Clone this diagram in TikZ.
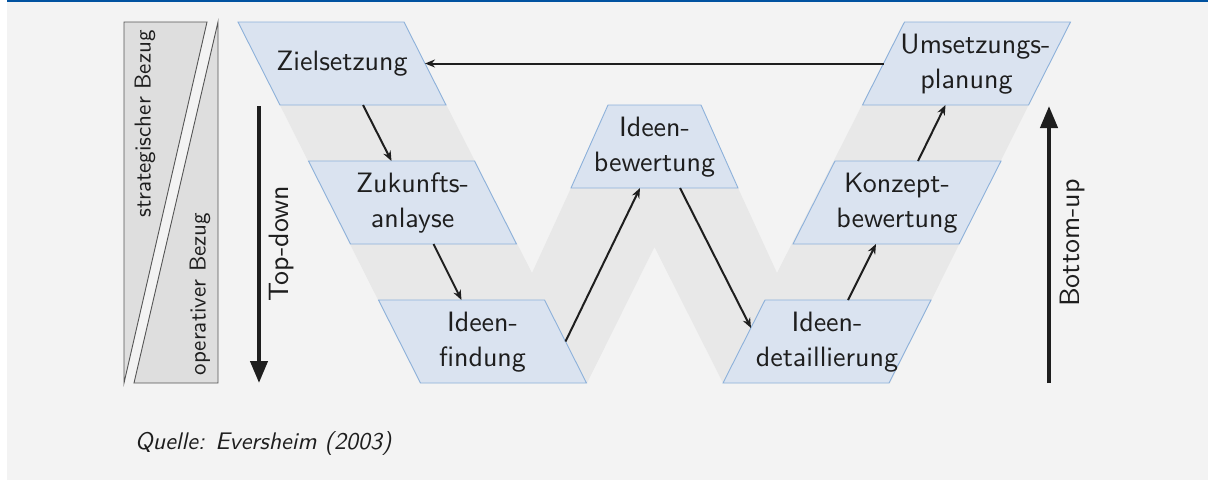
\documentclass[tikz,border=0pt]{standalone}
\usetikzlibrary{arrows.meta,calc}
\usepackage{graphicx}
\definecolor{bgc}{HTML}{F3F3F3}
\definecolor{topblue}{HTML}{0052A0}
\definecolor{bandc}{HTML}{E8E8E8}
\definecolor{boxfill}{HTML}{DAE3F0}
\definecolor{boxline}{HTML}{8DB1DA}
\definecolor{sidefill}{HTML}{DEDEDE}
\definecolor{sideline}{HTML}{555555}
\definecolor{ink}{HTML}{1E1E1E}
\newcommand\leftpara[2]{\path[boxst,shift={(#1,#2)}] (-104,-41.5) -- (62,-41.5) -- (104,41.5) -- (-62,41.5) -- cycle;}
\newcommand\rightpara[2]{\path[boxst,shift={(#1,#2)}] (-62,-41.5) -- (104,-41.5) -- (62,41.5) -- (-104,41.5) -- cycle;}
\newcommand\bigtxt[1]{\scalebox{2.8}{\fontsize{10}{12.5}\selectfont\begin{tabular}{@{}c@{}}#1\end{tabular}}}
\newcommand\sidetxt[1]{\scalebox{2.3}{\fontsize{10}{12}\selectfont #1}}
\begin{document}
\begin{tikzpicture}[x=1pt,y=-1pt,
  boxst/.style={fill=boxfill,draw=boxline,line width=0.9pt,line join=miter},
  lab/.style={font=\sffamily,text=ink,inner sep=0pt},
  sidelab/.style={font=\sffamily,text=ink,rotate=90,inner sep=0pt},
  bigarrowlab/.style={font=\sffamily,text=ink,rotate=90,inner sep=0pt},
  conn/.style={draw=ink,line width=2pt,-{Stealth[length=10pt,width=8pt]}},
  bigarrow/.style={draw=ink,line width=4.2pt,-{Triangle[length=22pt,width=17pt]}},
  sidepoly/.style={fill=sidefill,draw=sideline,line width=0.9pt}]
\useasboundingbox (0,0) rectangle (1208,480);
\fill[white] (0,0) rectangle (1208,480);
\fill[bgc] (7,0) rectangle (1208,480);
\fill[topblue] (7,0) rectangle (1208,1.6);
% W band
\fill[bandc] (238,22) -- (420,383) -- (587,383) -- (654.5,247) -- (723,383) -- (890,383)
  -- (1070,22) -- (904,22) -- (777,273) -- (738,188) -- (571,188) -- (532,273) -- (404,22) -- cycle;
% side box
\path[sidepoly] (124,22) -- (207,22) -- (124,383) -- cycle;
\path[sidepoly] (218,22) -- (218,383) -- (134,383) -- cycle;
\node[sidelab] (strat) at (145,124) {\sidetxt{strategischer Bezug}};
\node[sidelab] (oper) at (200,294) {\sidetxt{operativer Bezug}};
% big arrows
\coordinate (tdA) at (259,106);
\coordinate (tdB) at (259,383);
\draw[bigarrow] (tdA) -- (tdB);
\node[bigarrowlab] (td) at (281,244) {\bigtxt{Top-down}};
\coordinate (buA) at (1049,383);
\coordinate (buB) at (1049,106);
\draw[bigarrow] (buA) -- (buB);
\node[bigarrowlab] (bu) at (1072,243) {\bigtxt{Bottom-up}};
% boxes
\leftpara{342}{63.5}
\leftpara{412.5}{202.5}
\leftpara{482.5}{341.5}
\rightpara{827}{341.5}
\rightpara{897}{202.5}
\rightpara{966.5}{63.5}
\path[boxst] (608,105) -- (701,105) -- (738,188) -- (571,188) -- cycle;
\node[lab] (ziel) at (342,63.5) {\bigtxt{Zielsetzung}};
\node[lab] (zuk) at (412.5,202.5) {\bigtxt{Zukunfts-\\anlayse}};
\node[lab] (fin) at (482.5,341.5) {\bigtxt{Ideen-\\findung}};
\node[lab] (bew) at (654.5,146.5) {\bigtxt{Ideen-\\bewertung}};
\node[lab] (det) at (827,341.5) {\bigtxt{Ideen-\\detaillierung}};
\node[lab] (konz) at (897,202.5) {\bigtxt{Konzept-\\bewertung}};
\node[lab] (ums) at (966.5,63.5) {\bigtxt{\hspace*{6.4pt}Umsetzungs-\\planung}};
% connector anchors on the shape borders
\coordinate (ziel-b) at ($(ziel)+(21,41.5)$);
\coordinate (ziel-r) at ($(ziel)+(83,0)$);
\coordinate (zuk-t) at ($(zuk)+(-21,-41.5)$);
\coordinate (zuk-b) at ($(zuk)+(21,41.5)$);
\coordinate (fin-t) at ($(fin)+(-21,-41.5)$);
\coordinate (fin-r) at ($(fin)+(83,0)$);
\coordinate (bew-bl) at ($(bew)+(-14.5,41.5)$);
\coordinate (bew-br) at ($(bew)+(25.5,41.5)$);
\coordinate (det-l) at ($(det)+(-76,-13.5)$);
\coordinate (det-t) at ($(det)+(21,-41.5)$);
\coordinate (konz-b) at ($(konz)+(-21,41.5)$);
\coordinate (konz-t) at ($(konz)+(21,-41.5)$);
\coordinate (ums-b) at ($(ums)+(-21,41.5)$);
\coordinate (ums-l) at ($(ums)+(-83,0)$);
\draw[conn] (ziel-b) -- (zuk-t);
\draw[conn] (zuk-b) -- (fin-t);
\draw[conn] (fin-r) -- (bew-bl);
\draw[conn] (bew-br) -- (det-l);
\draw[conn] (det-t) -- (konz-b);
\draw[conn] (konz-t) -- (ums-b);
\draw[conn] (ums-l) -- (ziel-r);
\node[font=\sffamily\slshape,text=ink,anchor=west,inner sep=0pt] (src) at (135,443) {\scalebox{2.4}{\fontsize{10}{12}\selectfont Quelle: Eversheim (2003)}};
\end{tikzpicture}
\end{document}
